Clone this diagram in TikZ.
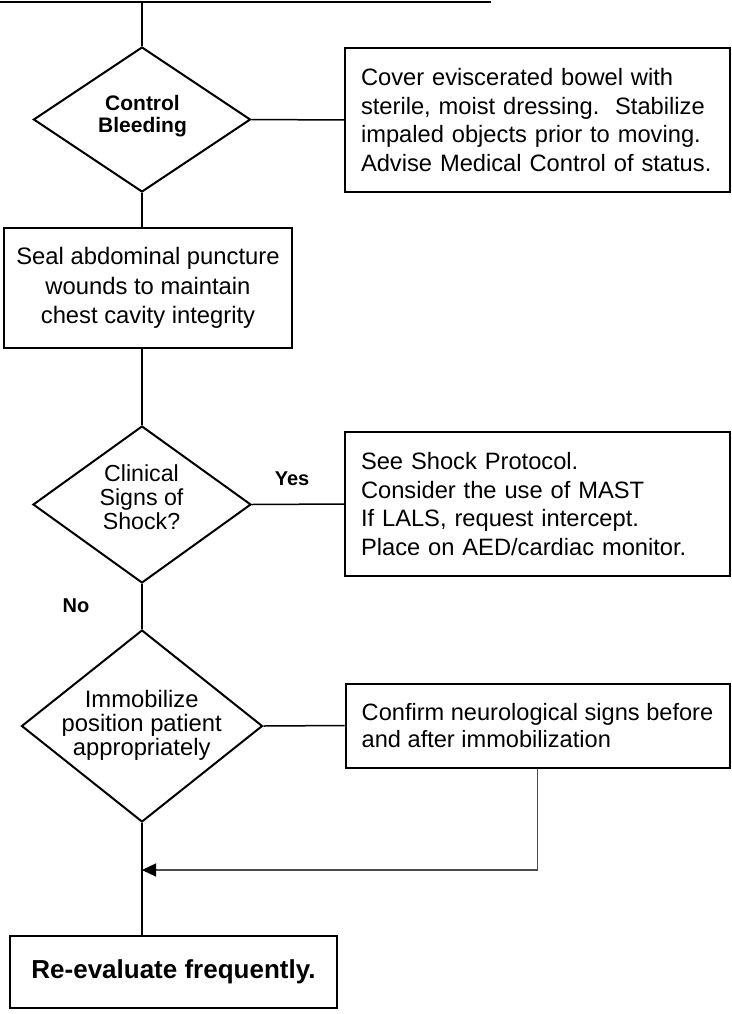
\documentclass[tikz,border=0pt]{standalone}
\usepackage{fontspec}
\setmainfont{Liberation Sans}
\usetikzlibrary{shapes.geometric,arrows.meta}
\begin{document}
\begin{tikzpicture}[x=1pt,y=-1pt,
  box/.style={draw,line width=2pt,rectangle,inner sep=0pt},
  dia/.style={draw,line width=2pt,diamond,inner sep=0pt},
  conn/.style={line width=1.5pt},
  fback/.style={line width=1.2pt,draw=black!70},
  body/.style={font=\fontsize{23.7}{28.5}\selectfont},
  ltext/.style={body,align=left},
  dtext/.style={align=center,inner sep=0pt},
  lbl/.style={font=\fontsize{20}{22}\selectfont\bfseries,inner sep=0pt}
]
\useasboundingbox (0,0) rectangle (731,1014);

% bottom edge of the box above the page
\coordinate (topl) at (0,2);
\coordinate (topr) at (491,2);
\coordinate (top) at (142,2);
\draw[line width=2pt] (topl) -- (topr);

% Control bleeding
\node[dia,minimum width=217pt,minimum height=145pt] (d1) at (142,119.5) {};
\node[dtext,font=\fontsize{21}{21.3}\selectfont\bfseries] (d1t) at (142.5,116) {Control\\Bleeding};
\node[box,ltext,text width=353pt,minimum width=385pt,minimum height=144pt] (b1) at (537.5,120)
  {Cover eviscerated bowel with\\sterile, moist dressing.\ \ Stabilize\\impaled objects prior to moving.\\Advise Medical Control of status.};

% Seal
\node[box,font=\fontsize{23.8}{29.5}\selectfont,align=center,minimum width=288pt,minimum height=120pt] (seal) at (148,288)
  {Seal abdominal puncture\\wounds to maintain\\chest cavity integrity};

% Shock
\node[dia,minimum width=218pt,minimum height=157pt] (d2) at (142,504.5) {};
\node[dtext,font=\fontsize{23.2}{23.8}\selectfont] (d2t) at (141.5,497.5) {Clinical\\Signs of\\Shock?};
\node[box,ltext,text width=353pt,minimum width=385pt,minimum height=144pt] (b2) at (537.5,504)
  {See Shock Protocol.\\Consider the use of MAST\\If LALS, request intercept.\\Place on AED/cardiac monitor.};
\node[lbl] (yes) at (292,479) {Yes};
\node[lbl] (no) at (76,606) {No};

% Immobilize
\node[dia,minimum width=241pt,minimum height=192pt] (d3) at (142,726) {};
\node[dtext,font=\fontsize{23.8}{24}\selectfont] (d3t) at (141.7,725) {Immobilize\\position patient\\appropriately};
\node[box,ltext,font=\fontsize{23.6}{27.3}\selectfont,minimum width=384pt,minimum height=84pt] (b3) at (537.5,725.5)
  {Confirm neurological signs before\\and after immobilization};

% Re-evaluate
\node[box,font=\fontsize{26}{30}\selectfont\bfseries,minimum width=327pt,minimum height=72pt] (re) at (173.5,972)
  {Re-evaluate frequently.};

\coordinate (j) at (d3.south |- 0,870);

% connectors
\draw[conn] (top) -- (d1.north);
\draw[conn] (d1.east) -- (b1.west);
\draw[conn] (d1.south) -- (d1.south |- seal.north);
\draw[conn] (d2.north |- seal.south) -- (d2.north);
\draw[conn] (d2.east) -- (b2.west);
\draw[conn] (d2.south) -- (d3.north);
\draw[conn] (d3.east) -- (b3.west);
\draw[conn] (d3.south) -- (d3.south |- re.north);
\draw[fback,-{Triangle[length=14pt,width=13pt,color=black,fill=black]}] (b3.south) |- (j);
\end{tikzpicture}
\end{document}
